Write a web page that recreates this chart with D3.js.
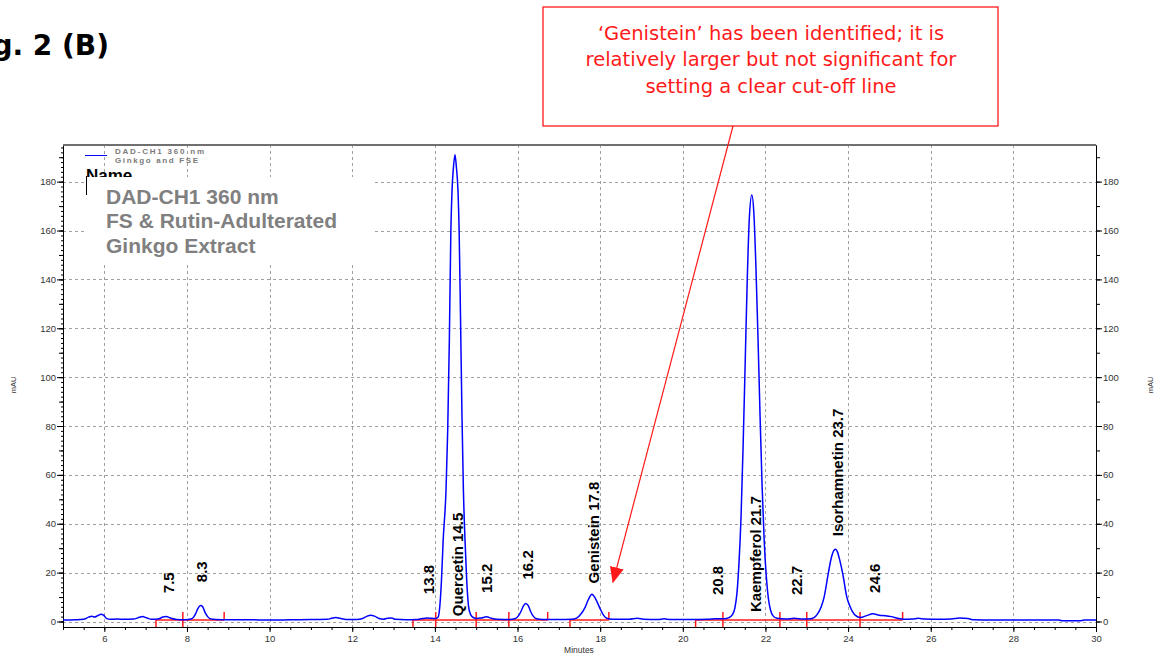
<!DOCTYPE html>
<html><head><meta charset="utf-8">
<script src="https://cdn.jsdelivr.net/npm/d3@7"></script>
<style>body{margin:0;background:#fff}svg{display:block}</style>
</head><body><svg id="c" width="1156" height="656"></svg>
<script>
// ---------- data ----------
const xTicks = [6,8,10,12,14,16,18,20,22,24,26,28,30];
const yTicks = [0,20,40,60,80,100,120,140,160,180];
const trace = [
[5.0,0.6],[5.3,0.7],[5.5,0.9],[5.62,1.8],[5.7,2.2],[5.76,1.8],[5.84,2.4],[5.92,3.0],[5.98,2.6],[6.05,1.3],[6.15,0.9],[6.3,1.0],[6.5,0.9],[6.7,1.0],[6.85,1.7],[6.93,2.0],[7.02,1.5],[7.15,0.9],[7.3,1.0],[7.42,1.8],[7.5,2.0],[7.6,1.4],[7.75,0.8],[7.95,0.7],[8.1,1.0],[8.17,2.0],[8.22,3.6],[8.27,5.5],[8.33,6.5],[8.38,6.0],[8.44,3.6],[8.5,2.0],[8.58,1.0],[8.7,0.8],[9.0,0.7],[9.5,0.7],[10.0,0.6],[10.5,0.7],[11.0,0.8],[11.4,0.9],[11.52,1.4],[11.6,1.6],[11.7,1.3],[11.85,0.8],[12.1,0.8],[12.25,1.2],[12.35,2.1],[12.45,2.6],[12.55,2.1],[12.65,1.2],[12.75,0.9],[12.85,1.3],[12.95,1.4],[13.05,0.9],[13.3,0.7],[13.55,0.8],[13.7,1.2],[13.8,1.4],[13.92,1.3],[14.02,1.2],[14.08,1.8],[14.11,4.6],[14.16,17],[14.2,33],[14.27,54],[14.31,78],[14.35,115],[14.387,160],[14.414,176],[14.45,186],[14.487,191],[14.52,186],[14.56,176],[14.587,160],[14.62,125],[14.655,85],[14.69,54],[14.73,33],[14.77,17],[14.83,4.6],[14.9,2.0],[15.0,1.2],[15.12,1.4],[15.25,1.9],[15.37,1.3],[15.5,0.9],[15.8,0.8],[15.95,1.2],[16.03,2.5],[16.08,4.0],[16.14,6.3],[16.2,7.4],[16.26,6.5],[16.32,4.0],[16.38,2.2],[16.46,1.1],[16.6,0.8],[17.0,0.8],[17.3,0.9],[17.43,1.4],[17.53,3.0],[17.63,5.6],[17.71,8.8],[17.8,11.2],[17.88,9.6],[17.99,5.6],[18.08,2.6],[18.16,1.3],[18.3,0.9],[18.7,0.9],[18.9,1.3],[19.05,0.9],[19.4,0.8],[19.55,1.1],[19.7,0.8],[20.2,0.8],[20.6,0.9],[20.8,1.1],[21.0,1.1],[21.12,1.6],[21.2,2.8],[21.26,5.5],[21.31,11.5],[21.36,24],[21.41,43],[21.46,72],[21.51,106],[21.56,140],[21.61,165],[21.67,174.5],[21.72,167],[21.77,145],[21.82,116],[21.87,84],[21.92,55],[21.97,33],[22.02,18.6],[22.07,9.6],[22.12,4.9],[22.18,2.4],[22.28,1.3],[22.5,1.0],[22.7,1.3],[22.9,1.0],[23.1,1.1],[23.24,2.6],[23.35,6],[23.42,10],[23.52,19.6],[23.6,26.5],[23.66,29.2],[23.7,29.6],[23.74,28.6],[23.8,25],[23.87,19.6],[23.97,10],[24.05,6],[24.17,2.6],[24.3,1.6],[24.45,2.4],[24.6,3.2],[24.75,2.6],[24.9,2.4],[25.05,2.0],[25.2,1.3],[25.35,0.9],[25.55,1.0],[25.7,1.3],[25.85,1.0],[26.2,0.9],[26.5,1.0],[26.7,1.4],[26.9,1.2],[27.05,0.7],[27.5,0.6],[28.5,0.6],[29.1,0.6],[29.2,0.3],[29.6,0.3],[29.72,0.6],[30.0,0.6]
];
const labelTimes = [7.5,8.3,13.8,14.5,15.2,16.2,17.8,20.8,21.7,22.7,23.7,24.6];
const labelTexts = ["7.5","8.3","13.8","Quercetin 14.5","15.2","16.2","Genistein 17.8","20.8","Kaempferol 21.7","22.7","Isorhamnetin 23.7","24.6"];
const labelLevels = [11.6,16.1,11.2,2.2,11.7,17.2,15.6,10.8,3.9,10.8,34.9,11.7];
const integrationLevel = 0.6;
const integrationSegments = [
  {start:7.25, cuts:[7.9], end:8.9},
  {start:13.47, cuts:[14.02,15.0,15.79], end:16.73},
  {start:17.27, cuts:[], end:18.21},
  {start:20.31, cuts:[20.97,22.35,23.0,24.29], end:25.32}
];
const noteLines = ["\u2018Genistein\u2019 has been identified; it is","relatively larger but not significant for","setting a clear cut-off line"];
const noteTip = [18.31, 16.1];
const boxLines = ["DAD-CH1 360 nm","FS & Rutin-Adulterated","Ginkgo Extract"];
const legendLines = ["DAD-CH1  360 nm","Ginkgo and FSE"];
const titleText = "Fig. 2 (B)";

// ---------- drawing ----------
const svg = d3.select("#c");
svg.append("rect").attr("width",1156).attr("height",656).attr("fill","#fff");
const L=63, R=1096, T=145, B=627;
const x = d3.scaleLinear().domain([5,30]).range([L,R]);
const y = d3.scaleLinear().domain([-2.25,195]).range([B,T]);
const sans = "'Liberation Sans', Arial, sans-serif";

// title
svg.append("text").attr("x",109).attr("y",55).attr("text-anchor","end")
  .attr("font-family","'DejaVu Sans', Verdana, sans-serif").attr("font-weight","bold")
  .attr("font-size",28).attr("fill","#000").text(titleText);

// grid
const grid = svg.append("g").attr("stroke","#a0a0a0").attr("stroke-width",1).attr("stroke-dasharray","3,3");
grid.selectAll("line.v").data(xTicks.filter(d=>d<30)).join("line")
  .attr("x1",d=>Math.round(x(d))+0.5).attr("x2",d=>Math.round(x(d))+0.5).attr("y1",T).attr("y2",B);
grid.selectAll("line.h").data(yTicks).join("line")
  .attr("x1",L).attr("x2",R).attr("y1",d=>Math.round(y(d))+0.5).attr("y2",d=>Math.round(y(d))+0.5);

// legend
svg.append("line").attr("x1",85).attr("x2",107).attr("y1",155.5).attr("y2",155.5).attr("stroke","#0000ff").attr("stroke-width",1);
svg.selectAll("text.leg").data(legendLines).join("text").attr("class","leg")
  .attr("x",115).attr("y",(d,i)=>153.5+i*9.3).attr("font-family",sans).attr("font-weight","bold")
  .attr("font-size",8).attr("fill","#7a7a7a")
  .attr("textLength",(d,i)=>i===0?89:83).attr("lengthAdjust","spacing").text(d=>d);
svg.append("text").attr("x",86).attr("y",180.5).attr("font-family",sans).attr("font-weight","bold")
  .attr("font-size",17).attr("fill","#000").text("Name");
// white label box covering grid and part of "Name"
svg.append("rect").attr("x",87).attr("y",177).attr("width",288).attr("height",88).attr("fill","#fff");
svg.append("line").attr("x1",86.5).attr("x2",86.5).attr("y1",176).attr("y2",195).attr("stroke","#000").attr("stroke-width",1);
svg.selectAll("text.box").data(boxLines).join("text").attr("class","box")
  .attr("x",106).attr("y",(d,i)=>204+i*24.4).attr("font-family",sans).attr("font-weight","bold")
  .attr("font-size",21).attr("fill","#808080").text(d=>d);

// axes
function styleAxis(g){
  g.selectAll("text").attr("font-family",sans).attr("font-size",9.5).attr("fill","#333");
  g.selectAll("line").attr("stroke","#000");
  g.select(".domain").attr("stroke","#000");
}
const d2 = d3.range(0,195,2), d10 = d3.range(0,195,10);
svg.append("g").attr("transform",`translate(${L},0)`)
  .call(d3.axisLeft(y).tickValues(d2).tickSize(2).tickSizeOuter(0).tickFormat("")).call(styleAxis);
svg.append("g").attr("transform",`translate(${L},0)`)
  .call(d3.axisLeft(y).tickValues(d10).tickSize(4).tickSizeOuter(0).tickFormat("")).call(styleAxis);
svg.append("g").attr("transform",`translate(${L},0)`)
  .call(d3.axisLeft(y).tickValues(yTicks).tickSize(6).tickPadding(1).tickSizeOuter(0)).call(styleAxis);
svg.append("g").attr("transform",`translate(${R},0)`)
  .call(d3.axisRight(y).tickValues(d10).tickSize(4).tickSizeOuter(0).tickFormat("")).call(styleAxis);
svg.append("g").attr("transform",`translate(${R},0)`)
  .call(d3.axisRight(y).tickValues(yTicks).tickSize(6).tickPadding(1).tickSizeOuter(0)).call(styleAxis);
svg.append("g").attr("transform",`translate(0,${B})`)
  .call(d3.axisBottom(x).tickValues(d3.range(5,30.01,0.5)).tickSize(3).tickSizeOuter(0).tickFormat("")).call(styleAxis);
svg.append("g").attr("transform",`translate(0,${B})`)
  .call(d3.axisBottom(x).tickValues(xTicks).tickSize(5).tickPadding(3).tickSizeOuter(0)).call(styleAxis);
// top border
svg.append("line").attr("x1",L).attr("x2",R).attr("y1",T).attr("y2",T).attr("stroke","#707070").attr("stroke-width",2);

// axis titles
svg.append("text").attr("x",579).attr("y",653).attr("text-anchor","middle").attr("font-family",sans)
  .attr("font-size",8.5).attr("fill","#333").text("Minutes");
[15.5,1153].forEach(px=>{
  svg.append("text").attr("transform",`translate(${px},385) rotate(-90)`).attr("text-anchor","middle")
    .attr("font-family",sans).attr("font-size",7.5).attr("fill","#333").text("mAU");
});

// integration baseline
const red = "#ff1a1a";
const yb = y(integrationLevel);
const ig = svg.append("g").attr("stroke",red).attr("stroke-width",1.5);
integrationSegments.forEach(s=>{
  ig.append("line").attr("x1",x(s.start)).attr("x2",x(s.end)).attr("y1",yb).attr("y2",yb);
  ig.append("line").attr("x1",x(s.start)).attr("x2",x(s.start)).attr("y1",yb).attr("y2",yb+7);
  s.cuts.forEach(c=>ig.append("line").attr("x1",x(c)).attr("x2",x(c)).attr("y1",yb-8).attr("y2",yb+7));
  ig.append("line").attr("x1",x(s.end)).attr("x2",x(s.end)).attr("y1",yb-8).attr("y2",yb);
});

// trace
svg.append("path").datum(trace)
  .attr("d",d3.line().x(d=>x(d[0])).y(d=>y(d[1])).curve(d3.curveMonotoneX))
  .attr("fill","none").attr("stroke","#0000ff").attr("stroke-width",1.5).attr("stroke-linejoin","round");

// peak labels
svg.selectAll("text.pk").data(labelTimes).join("text").attr("class","pk")
  .attr("transform",(d,i)=>`translate(${x(d)+7.5},${y(labelLevels[i])}) rotate(-90)`)
  .attr("font-family",sans).attr("font-weight","bold").attr("font-size",15).attr("fill","#000")
  .text((d,i)=>labelTexts[i]);

// annotation box
svg.append("rect").attr("x",543).attr("y",7).attr("width",455).attr("height",119)
  .attr("fill","#fff").attr("stroke",red).attr("stroke-width",1.3);
svg.selectAll("text.note").data(noteLines).join("text").attr("class","note")
  .attr("x",771).attr("y",(d,i)=>39.5+i*26.5).attr("text-anchor","middle")
  .attr("font-family","'DejaVu Sans', Verdana, sans-serif").attr("font-size",19.5).attr("fill",red).text(d=>d);
const defs = svg.append("defs");
defs.append("marker").attr("id","ah").attr("markerUnits","userSpaceOnUse")
  .attr("markerWidth",16).attr("markerHeight",14).attr("viewBox","0 0 16 14")
  .attr("refX",15).attr("refY",7).attr("orient","auto")
  .append("path").attr("d","M0,0 L16,7 L0,14 Z").attr("fill",red);
svg.append("line").attr("x1",733).attr("y1",126).attr("x2",x(noteTip[0])).attr("y2",y(noteTip[1]))
  .attr("stroke",red).attr("stroke-width",1.2).attr("marker-end","url(#ah)");
</script></body></html>
